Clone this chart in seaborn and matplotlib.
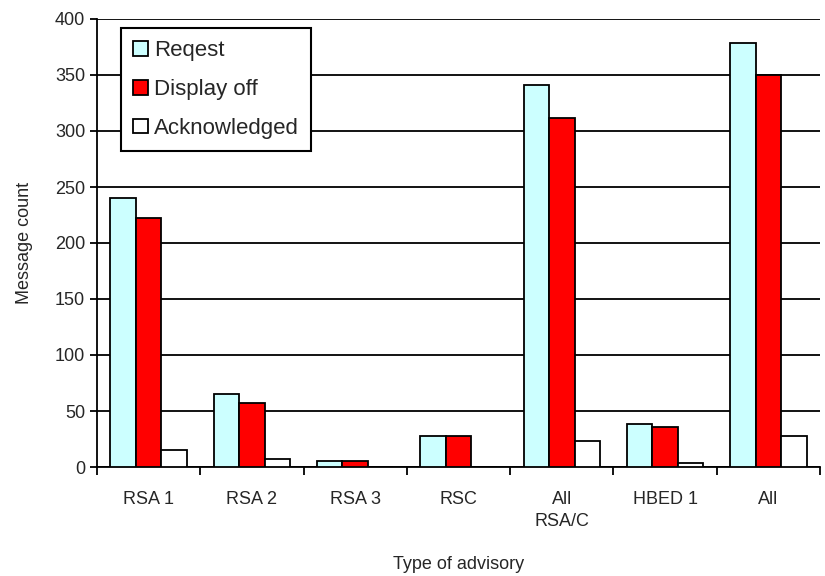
import pandas as pd
import numpy as np
import matplotlib.pyplot as plt
import seaborn as sns

categories = ["RSA 1", "RSA 2", "RSA 3", "RSC", "All\nRSA/C", "HBED 1", "All"]
series = ["Reqest", "Display off", "Acknowledged"]
request = [240, 65, 5, 28, 341, 38, 379]
display_off = [222, 57, 5, 28, 312, 36, 350]
acknowledged = [15, 7, 0, 0, 23, 4, 28]
colors = ["#CCFFFF", "#FF0000", "#FFFFFF"]

df = pd.DataFrame({
    "category": categories * 3,
    "series": [series[0]] * 7 + [series[1]] * 7 + [series[2]] * 7,
    "count": request + display_off + acknowledged,
})

sns.set_style("white")
plt.rcParams['font.family'] = ['Liberation Sans', 'DejaVu Sans']

fig, ax = plt.subplots(figsize=(8.25, 5.76), dpi=100)
fig.subplots_adjust(left=97 / 825, right=820 / 825, top=1 - 19 / 576, bottom=1 - 467 / 576)

sns.barplot(data=df, x="category", y="count", hue="series", order=categories,
            hue_order=series, palette=colors, width=0.74, edgecolor="black",
            linewidth=1.3, saturation=1, ax=ax, zorder=3)

ax.set_xlim(-0.5, 6.5)
ax.set_ylim(0, 400)
ax.set_yticks(np.arange(0, 401, 50))
ax.yaxis.grid(True, color="black", linewidth=1.3)
ax.set_axisbelow(True)

# ticks between groups, labels centred under groups
ax.set_xticks(np.arange(-0.5, 7, 1), minor=True)
ax.tick_params(axis="x", which="major", length=0, labelsize=13, pad=17)
ax.tick_params(axis="x", which="minor", length=6, width=1.3, direction="out", color="black", bottom=True)
ax.tick_params(axis="y", length=5, width=1.3, direction="out", color="black", left=True, labelsize=13)
for lbl in ax.get_xticklabels():
    lbl.set_linespacing(1.4)

for s in ["top", "right"]:
    ax.spines[s].set_visible(False)
for s in ["left", "bottom"]:
    ax.spines[s].set_color("black")
    ax.spines[s].set_linewidth(1.3)

ax.set_xlabel("Type of advisory", fontsize=13, labelpad=19)
ax.set_ylabel("Message count", fontsize=13, labelpad=16)

leg = ax.legend(loc="upper left", bbox_to_anchor=(0.033, 0.98), fontsize=16,
                frameon=True, fancybox=False, edgecolor="black",
                handlelength=0.65, handleheight=0.65, handletextpad=0.3,
                labelspacing=0.8, borderpad=0.55, borderaxespad=0, title=None)
leg.get_frame().set_linewidth(1.5)
leg.get_frame().set_alpha(1)

fig.savefig("out.png", dpi=100)
